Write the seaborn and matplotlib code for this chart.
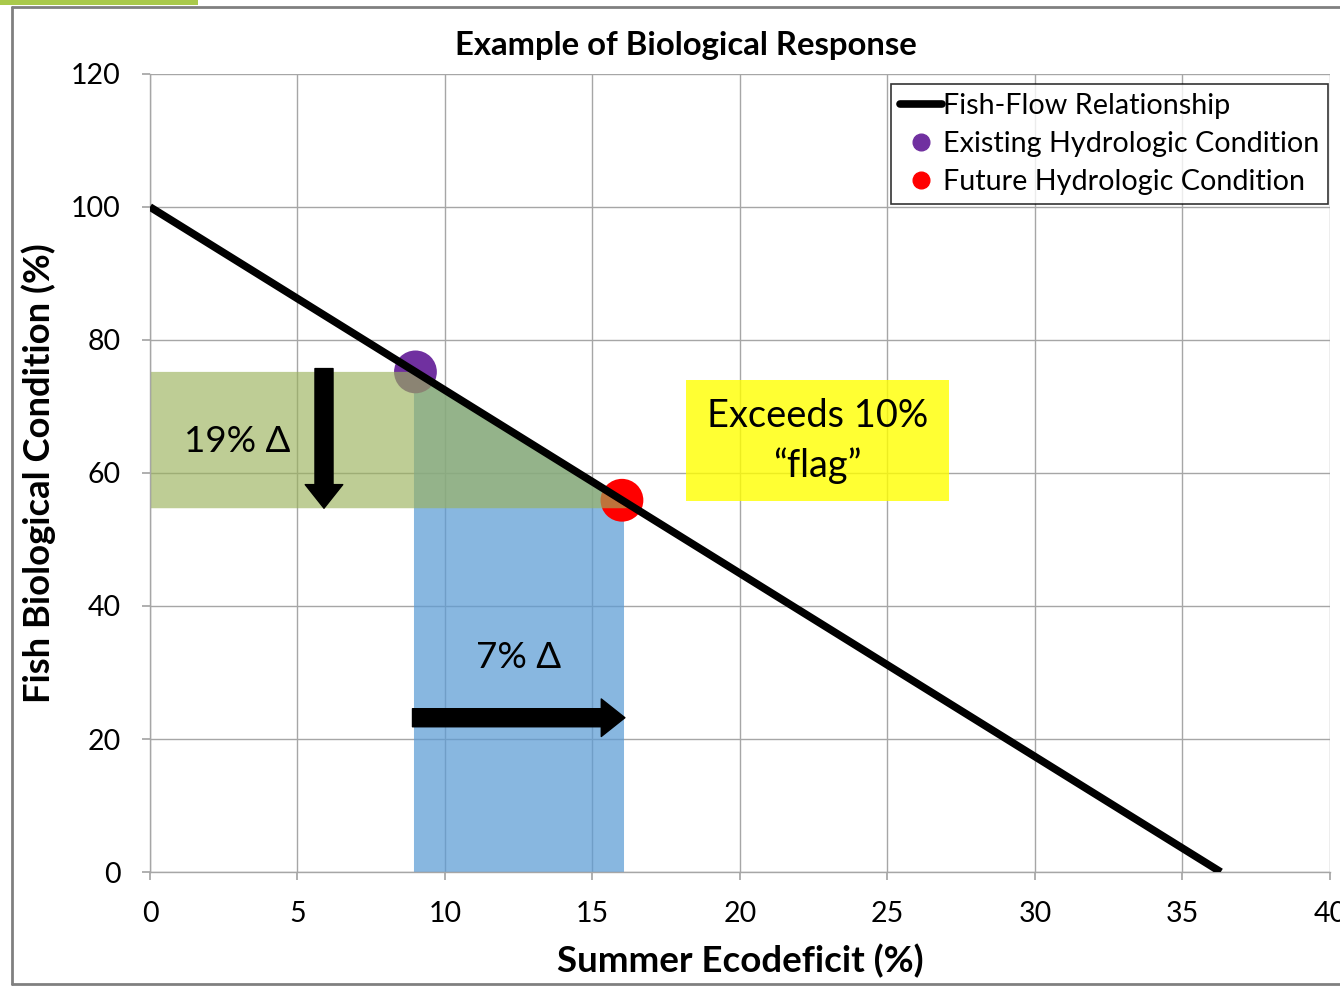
import matplotlib
matplotlib.use("Agg")
import matplotlib.pyplot as plt
import seaborn as sns
import pandas as pd
from matplotlib.patches import Polygon, Rectangle
from matplotlib.lines import Line2D

# Fish-flow relationship (ecodeficit vs. biological condition)
line_x = [0, 36.3]
line_y = [100, 0]

# Hydrologic conditions
existing_x, existing_y = [9.0], [75.2]
future_x, future_y = [16.0], [55.9]

# Lower edge of the condition-change band
band_low = 54.7

# Axis ticks
x_ticks = [0, 5, 10, 15, 20, 25, 30, 35, 40]
y_ticks = [0, 20, 40, 60, 80, 100, 120]

sns.set_theme(style="white")
plt.rcParams['font.family'] = ['Lato', 'DejaVu Sans']
plt.rcParams.update({"text.color": "black", "axes.labelcolor": "black",
                     "xtick.color": "black", "ytick.color": "black"})

fig = plt.figure(figsize=(13.4, 9.86), dpi=100)
ax = fig.add_axes([0.1119, 0.1156, 0.8806, 0.8094])

ax.set_xlim(0, 40)
ax.set_ylim(0, 120)
ax.set_xticks(x_ticks)
ax.set_yticks(y_ticks)
ax.grid(True, color="#a6a6a6", linewidth=1.0)
ax.set_axisbelow(True)
for s in ["top", "right"]:
    ax.spines[s].set_visible(False)
for s in ["left", "bottom"]:
    ax.spines[s].set_color("#a6a6a6")
    ax.spines[s].set_linewidth(1.0)
ax.tick_params(axis="both", which="both", length=6, color="#a6a6a6",
               labelsize=20.5, direction="out", bottom=True, left=True,
               pad=15)

# Shaded change regions
ex, ey = existing_x[0], existing_y[0]
fx, fy = future_x[0], future_y[0]
ax.add_patch(Polygon([(0, band_low), (0, ey), (ex, ey), (fx + 0.2, band_low)],
                     closed=True, facecolor="#9bb25c", alpha=0.65,
                     edgecolor="none", zorder=1.5))
ax.add_patch(Polygon([(ex - 0.05, 0), (ex - 0.05, ey), (fx + 0.07, fy - 0.2),
                      (fx + 0.07, 0)],
                     closed=True, facecolor="#5b9bd5", alpha=0.72,
                     edgecolor="none", zorder=1.4))

df_line = pd.DataFrame({"x": line_x, "y": line_y})
sns.lineplot(data=df_line, x="x", y="y", ax=ax, color="black",
             linewidth=5.5, zorder=3, solid_capstyle="butt", legend=False)
sns.scatterplot(x=existing_x, y=existing_y, ax=ax, color="#7030a0", s=950,
                edgecolor="none", zorder=1.45, legend=False)
sns.scatterplot(x=future_x, y=future_y, ax=ax, color="#ff0000", s=950,
                edgecolor="none", zorder=1.45, legend=False)

# Arrows
arrow_style = "simple,head_width=1.35,head_length=0.85,tail_width=0.65"
ax.annotate("", xy=(5.9, band_low), xytext=(5.9, ey + 0.5),
            arrowprops=dict(arrowstyle=arrow_style, color="black",
                            shrinkA=0, shrinkB=0, mutation_scale=20),
            zorder=4)
ax.annotate("", xy=(16.1, 23.2), xytext=(8.9, 23.2),
            arrowprops=dict(arrowstyle=arrow_style, color="black",
                            shrinkA=0, shrinkB=0, mutation_scale=20),
            zorder=4)

ax.text(2.95, 64.8, "19% Δ", fontsize=26.5, ha="center", va="center", zorder=5)
ax.text(12.5, 32.2, "7% Δ", fontsize=26.5, ha="center", va="center", zorder=5)

# Flag box
ax.add_patch(Rectangle((18.17, 55.8), 27.08 - 18.17, 74.0 - 55.8,
                       facecolor="#ffff00", alpha=0.8, edgecolor="none",
                       zorder=2))
ax.text(22.62, 64.8, "Exceeds 10%\n\u201cflag\u201d", fontsize=27.4,
        ha="center", va="center", linespacing=1.42, zorder=5)

fig.text(686 / 1340, 1 - 45 / 986, "Example of Biological Response",
         fontsize=23.7, fontweight="bold", ha="center", va="center")
ax.set_xlabel("Summer Ecodeficit (%)", fontsize=26.4, fontweight="bold",
              labelpad=12)
ax.set_ylabel("Fish Biological Condition (%)", fontsize=26.2,
              fontweight="bold", labelpad=11)

handles = [
    Line2D([], [], color="black", linewidth=5.5),
    Line2D([], [], color="#7030a0", marker="o", linestyle="none",
           markersize=12),
    Line2D([], [], color="#ff0000", marker="o", linestyle="none",
           markersize=12),
]
labels = ["Fish-Flow Relationship", "Existing Hydrologic Condition",
          "Future Hydrologic Condition"]
leg = ax.legend(handles, labels, loc="upper right",
                bbox_to_anchor=(0.9983, 0.987), fontsize=20.7, frameon=True,
                fancybox=False, edgecolor="black", handlelength=1.45,
                handletextpad=0.05, borderpad=0.3, labelspacing=0.42,
                borderaxespad=0)
leg.get_frame().set_linewidth(1.2)

# Outer frame
for (x0, y0, x1, y1) in [(12, 7, 12, 984), (12, 7, 1340, 7),
                         (12, 984, 1340, 984)]:
    fig.add_artist(Line2D([x0 / 1340, x1 / 1340], [1 - y0 / 986, 1 - y1 / 986],
                          transform=fig.transFigure, color="#808080",
                          linewidth=2))
fig.add_artist(Rectangle((0, 1 - 5 / 986), 198 / 1340, 5 / 986,
                         transform=fig.transFigure, facecolor="#a9c94b",
                         edgecolor="none"))

fig.savefig("out.png", dpi=100)
